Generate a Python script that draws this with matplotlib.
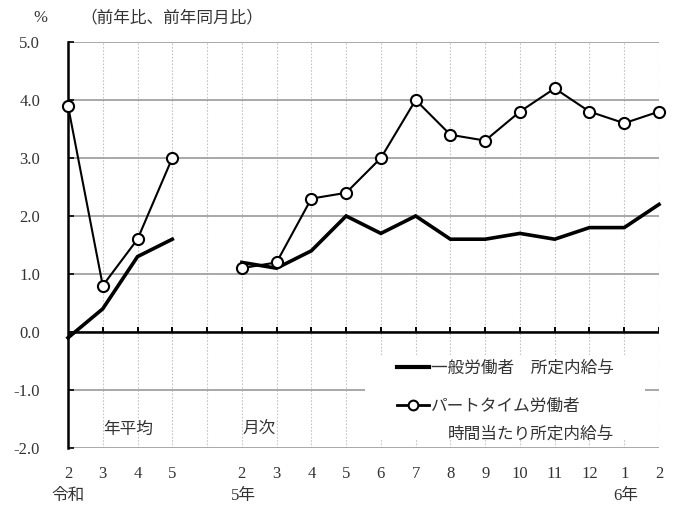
import numpy as np
import matplotlib
matplotlib.use("Agg")
import matplotlib.pyplot as plt
from matplotlib.lines import Line2D
from matplotlib.patches import Rectangle
import matplotlib.transforms as mtransforms

plt.rcParams['font.family'] = ['Liberation Serif', 'Noto Sans CJK JP', 'DejaVu Sans']
plt.rcParams['axes.unicode_minus'] = False

# annual averages (Reiwa 2-5) and monthly values (R5.2 - R6.2), % change y/y
annual_labels = ['2', '3', '4', '5']
month_labels = ['2', '3', '4', '5', '6', '7', '8', '9', '10', '11', '12', '1', '2']

general_annual = [-0.1, 0.4, 1.3, 1.6]
general_monthly = [1.2, 1.1, 1.4, 2.0, 1.7, 2.0, 1.6, 1.6, 1.7, 1.6, 1.8, 1.8, 2.2]

part_annual = [3.9, 0.8, 1.6, 3.0]
part_monthly = [1.1, 1.2, 2.3, 2.4, 3.0, 4.0, 3.4, 3.3, 3.8, 4.2, 3.8, 3.6, 3.8]

y_ticks = [5.0, 4.0, 3.0, 2.0, 1.0, 0.0, -1.0, -2.0]

txt_col = '#333333'
fs = 12

x_annual = np.arange(len(annual_labels))
x_month = np.arange(len(annual_labels) + 1, len(annual_labels) + 1 + len(month_labels))
x_all = np.arange(len(annual_labels) + 1 + len(month_labels))
tick_labels = annual_labels + [''] + month_labels

fig = plt.figure(figsize=(6.74, 5.11), dpi=100)
ax = fig.add_axes([68 / 674, 1 - 448 / 511, 591 / 674, 406 / 511])
ax.set_xlim(0, x_all[-1])
ax.set_ylim(-2.0, 5.0)

# grid: solid grey horizontals, dotted verticals
ax.set_axisbelow(True)
ax.yaxis.grid(True, color='#9a9a9a', lw=1.2)
ax.xaxis.grid(True, color='#c4c4c4', lw=0.8, ls=(0, (1.5, 1.5)))

for s in ['top', 'right', 'bottom']:
    ax.spines[s].set_visible(False)
ax.spines['left'].set_linewidth(1.8)
ax.spines['left'].set_color('black')

ax.set_yticks(y_ticks)
ax.set_yticklabels(['%.1f' % v for v in y_ticks])
ax.tick_params(axis='y', direction='in', length=4, width=1.2, color='black',
               labelsize=fs, labelcolor=txt_col, pad=20)
ax.set_xticks(x_all)
ax.set_xticklabels(tick_labels)
ax.tick_params(axis='x', length=0, labelsize=fs, labelcolor=txt_col, pad=13)

# zero line with small upward ticks
ax.axhline(0, color='black', lw=1.8, zorder=2)
ax.vlines(x_all, 0, 0.08, color='black', lw=1.4, zorder=2)

# white box behind the legend
ax.add_patch(Rectangle((0.5025, 0.02), 0.4735, 0.21, transform=ax.transAxes,
                       facecolor='white', edgecolor='none', zorder=1.5))

gen_style = dict(color='black', lw=2.6, solid_joinstyle='miter', zorder=3)
part_style = dict(color='black', lw=1.5, marker='o', markersize=8,
                  markerfacecolor='white', markeredgecolor='black',
                  markeredgewidth=1.5, zorder=4, clip_on=False)

ax.plot(x_annual, general_annual, clip_on=False, **gen_style)
ax.plot(x_month, general_monthly, clip_on=False, **gen_style)
ax.plot(x_annual, part_annual, **part_style)
ax.plot(x_month, part_monthly, **part_style)

# legend
handles = [Line2D([], [], color='black', lw=3.0),
           Line2D([], [], color='black', lw=2.0, marker='o', markersize=7,
                  markerfacecolor='white', markeredgewidth=1.5)]
labels = ['一般労働者　所定内給与', 'パートタイム労働者']
leg = ax.legend(handles, labels, loc='upper left', bbox_to_anchor=(0.556, 0.215),
                frameon=False, fontsize=fs, handlelength=1.95, handletextpad=0.1,
                borderpad=0, borderaxespad=0, labelspacing=1.35, labelcolor=txt_col)
ax.text(0.643, 0.033, '時間当たり所定内給与', transform=ax.transAxes,
        fontsize=fs, color=txt_col, va='center', ha='left')

# section labels inside the plot
ax.text(1.72, -1.69, '年平均', fontsize=fs, color=txt_col, ha='center', va='center')
ax.text(5.49, -1.69, '月次', fontsize=fs, color=txt_col, ha='center', va='center')

# era / year labels under the ticks
trans = mtransforms.blended_transform_factory(ax.transData, ax.transAxes)
ax.text(0, -0.118, '令和', transform=trans, fontsize=fs, color=txt_col,
        ha='center', va='center')
ax.text(5.05, -0.118, '5年', transform=trans, fontsize=fs, color=txt_col,
        ha='center', va='center')
ax.text(16.05, -0.118, '6年', transform=trans, fontsize=fs, color=txt_col,
        ha='center', va='center')

fig.text(40 / 674, 1 - 18 / 511, '%', fontsize=fs, color=txt_col, ha='center', va='center')
fig.text(172 / 674, 1 - 18 / 511, '（前年比、前年同月比）', fontsize=fs, color=txt_col,
         ha='center', va='center')

fig.savefig('out.png', dpi=100, facecolor='white')
